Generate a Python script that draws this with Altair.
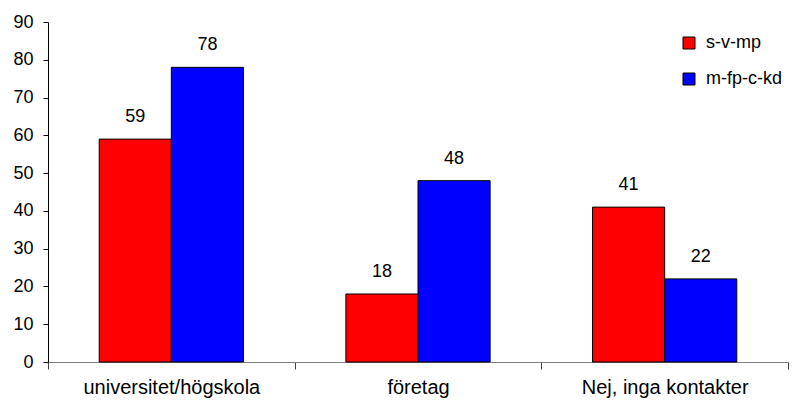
import altair as alt
import pandas as pd

categories = ["universitet/högskola", "företag", "Nej, inga kontakter"]
series_names = ["s-v-mp", "m-fp-c-kd"]
s_v_mp = [59, 18, 41]
m_fp_c_kd = [78, 48, 22]
colors = ["#FF0000", "#0000FF"]
y_ticks = [0, 10, 20, 30, 40, 50, 60, 70, 80, 90]

rows = []
for c, a, b in zip(categories, s_v_mp, m_fp_c_kd):
    rows.append({"cat": c, "series": series_names[0], "value": a})
    rows.append({"cat": c, "series": series_names[1], "value": b})
df = pd.DataFrame(rows)

FONT = "Liberation Sans"

x = alt.X("cat:N", sort=categories, title=None,
          scale=alt.Scale(paddingInner=0, paddingOuter=0),
          axis=alt.Axis(labelAngle=0, labelFont=FONT, labelFontSize=20, labelColor="black",
                        domainColor="#808080", tickColor="#404040", tickSize=7,
                        tickBand="extent", labelPadding=8, labelLimit=400,
                        labelOverlap=False))
xo = alt.XOffset("series:N", sort=series_names,
                 scale=alt.Scale(paddingInner=0, paddingOuter=0.71))
y = alt.Y("value:Q", title=None,
          scale=alt.Scale(domain=[0, 90], nice=False),
          axis=alt.Axis(values=y_ticks, tickCount=20, grid=False, labelFont=FONT,
                        labelFontSize=18, labelColor="black", domainColor="#000000",
                        tickColor="#000000", tickSize=5, labelPadding=10,
                        labelOverlap=False, labelFlush=False))

bars = alt.Chart(df).mark_bar(stroke="black", strokeWidth=1).encode(
    x=x, xOffset=xo, y=y,
    color=alt.Color("series:N", sort=series_names,
                    scale=alt.Scale(domain=series_names, range=colors),
                    legend=alt.Legend(title=None, orient="none", legendX=632, legendY=12,
                                      symbolType="square", symbolSize=144,
                                      symbolStrokeColor="black", symbolStrokeWidth=1,
                                      labelFont=FONT, labelFontSize=18, labelColor="black",
                                      rowPadding=18, labelOffset=8)),
)

labels = alt.Chart(df).mark_text(font=FONT, fontSize=18, color="black", dy=-22,
                                 baseline="middle").encode(
    x=x, xOffset=xo, y=y, text="value:Q")

chart = alt.layer(bars, labels).properties(
    width=740, height=340,
    background="white",
    autosize=alt.AutoSizeParams(type="none"),
    padding={"left": 40, "top": 14, "right": 10, "bottom": 40},
).configure_view(strokeWidth=0, stroke=None)

chart.save("out.html", embed_options={"renderer": "svg", "actions": False})
